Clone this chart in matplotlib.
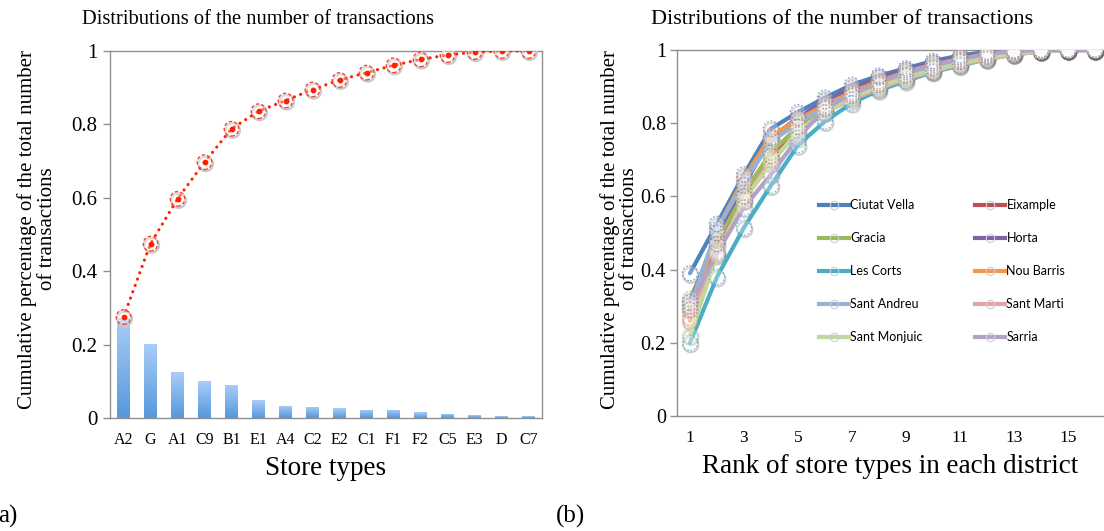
import numpy as np
import matplotlib
matplotlib.use("Agg")
import matplotlib.pyplot as plt
from matplotlib.lines import Line2D
from matplotlib import transforms
from matplotlib.colors import LinearSegmentedColormap

# ---------------- data ----------------
store_types = ["A2", "G", "A1", "C9", "B1", "E1", "A4", "C2", "E2", "C1", "F1", "F2", "C5", "E3", "D", "C7"]
share = [0.272, 0.202, 0.125, 0.100, 0.090, 0.048, 0.033, 0.030, 0.027, 0.022, 0.022, 0.016, 0.011, 0.008, 0.005, 0.005]
cumulative = [0.275, 0.475, 0.597, 0.697, 0.788, 0.836, 0.865, 0.895, 0.921, 0.941, 0.961, 0.977, 0.989, 0.997, 1.0, 1.0]

ranks = list(range(1, 17))
rank_ticks = [1, 3, 5, 7, 9, 11, 13, 15]
y_ticks = [0, 0.2, 0.4, 0.6, 0.8, 1]
y_ticklabels = ["0", "0.2", "0.4", "0.6", "0.8", "1"]

districts = ["Ciutat Vella", "Eixample", "Gracia", "Horta", "Les Corts",
             "Nou Barris", "Sant Andreu", "Sant Marti", "Sant Monjuic", "Sarria"]
ciutat_vella = [0.39, 0.525, 0.66, 0.785, 0.83, 0.87, 0.905, 0.93, 0.95, 0.97, 0.985, 0.995, 0.999, 1.0, 1.0, 1.0]
eixample = [0.29, 0.47, 0.60, 0.71, 0.79, 0.84, 0.875, 0.905, 0.93, 0.95, 0.968, 0.982, 0.993, 0.998, 1.0, 1.0]
gracia = [0.32, 0.48, 0.61, 0.72, 0.79, 0.84, 0.875, 0.905, 0.93, 0.952, 0.97, 0.984, 0.994, 0.999, 1.0, 1.0]
horta = [0.31, 0.50, 0.63, 0.76, 0.815, 0.86, 0.895, 0.925, 0.945, 0.965, 0.98, 0.99, 0.997, 1.0, 1.0, 1.0]
les_corts = [0.20, 0.38, 0.515, 0.63, 0.74, 0.805, 0.855, 0.89, 0.915, 0.94, 0.957, 0.975, 0.988, 0.996, 1.0, 1.0]
nou_barris = [0.26, 0.51, 0.65, 0.765, 0.81, 0.85, 0.885, 0.915, 0.94, 0.96, 0.975, 0.988, 0.996, 0.999, 1.0, 1.0]
sant_andreu = [0.30, 0.51, 0.64, 0.75, 0.80, 0.845, 0.88, 0.91, 0.935, 0.955, 0.972, 0.985, 0.995, 0.999, 1.0, 1.0]
sant_marti = [0.27, 0.45, 0.59, 0.70, 0.77, 0.83, 0.865, 0.895, 0.92, 0.942, 0.96, 0.975, 0.988, 0.996, 1.0, 1.0]
sant_monjuic = [0.22, 0.44, 0.59, 0.69, 0.78, 0.83, 0.87, 0.90, 0.925, 0.945, 0.963, 0.978, 0.99, 0.997, 1.0, 1.0]
sarria = [0.30, 0.445, 0.57, 0.66, 0.76, 0.84, 0.88, 0.91, 0.94, 0.96, 0.975, 0.99, 0.997, 1.0, 1.0, 1.0]
district_values = [ciutat_vella, eixample, gracia, horta, les_corts,
                   nou_barris, sant_andreu, sant_marti, sant_monjuic, sarria]
district_colors = ["#4F81BD", "#C0504D", "#9BBB59", "#8064A2", "#4BACC6",
                   "#F79646", "#95B3D7", "#E6A5A4", "#C3D69B", "#B3A2C7"]

# ---------------- figure ----------------
plt.rcParams["font.family"] = ["Liberation Serif", "DejaVu Serif"]
W, H = 1104, 531
fig = plt.figure(figsize=(W / 100, H / 100), dpi=100)

spine_col = "#8f8f8f"

def fx(px):
    return px / W

def fy(py):
    return 1 - py / H

ylabel_text = "Cumulative percentage of the total number\nof transactions"

# ---- left panel ----
axL = fig.add_axes([fx(110), fy(418), fx(542) - fx(110), fy(51) - fy(418)])
x = np.arange(len(store_types))
bar_w = 0.45
bars = axL.bar(x, share, width=bar_w, color="none", edgecolor="none", zorder=2)
grad = np.linspace(0, 1, 256).reshape(-1, 1)
cmap = LinearSegmentedColormap.from_list("barg", ["#5598dc", "#aacdf7"])
for b in bars:
    x0, y0 = b.get_x(), b.get_y()
    w, h = b.get_width(), b.get_height()
    im = axL.imshow(grad, extent=[x0, x0 + w, y0, y0 + h], origin="lower",
                    aspect="auto", cmap=cmap, zorder=2)
    im.set_clip_path(b)

axL.plot(x, cumulative, color="#ff2000", lw=2.3, linestyle=(0, (0.01, 2.1)),
         dash_capstyle="round", zorder=4)
sh = transforms.offset_copy(axL.transData, fig=fig, x=0.8, y=-1.2, units="points")
axL.scatter(x, cumulative, s=110, facecolors="none", edgecolors="#c8c8c8",
            linewidths=1.6, transform=sh, zorder=3)
axL.scatter(x, cumulative, s=110, facecolors="white", alpha=0.35, edgecolors="none", zorder=4.5)
axL.scatter(x, cumulative, s=110, facecolors="none", edgecolors="#ee4a3a",
            linewidths=1.0, linestyle=(0, (2.5, 1.5)), zorder=5)
axL.scatter(x, cumulative, s=10, color="#ff2000", zorder=6)

axL.set_xlim(-0.5, len(store_types) - 0.5)
axL.set_ylim(0, 1)
axL.set_xticks(x)
axL.set_xticklabels(store_types, fontsize=11.5)
axL.set_yticks(y_ticks)
axL.set_yticklabels(y_ticklabels, fontsize=15)
axL.tick_params(axis="x", length=0, pad=10)
axL.tick_params(axis="y", length=5, width=1, color=spine_col, pad=4)
for s in axL.spines.values():
    s.set_color(spine_col)
    s.set_linewidth(1)
axL.set_xlabel("Store types", fontsize=19.5, labelpad=6)
fig.text(fx(37), fy(229), ylabel_text, fontsize=15, rotation=90,
         ha="center", va="center", linespacing=1.05, multialignment="center")

# ---- right panel ----
axR = fig.add_axes([fx(677), fy(416), 1 - fx(677), fy(50) - fy(416)])
shR = transforms.offset_copy(axR.transData, fig=fig, x=0.6, y=-1.4, units="points")
handles = {}
for name, vals, col in zip(districts, district_values, district_colors):
    axR.plot(ranks, vals, color=col, lw=3.0, solid_joinstyle="round",
             solid_capstyle="round", zorder=3)
    axR.scatter(ranks, vals, s=120, facecolors="none", edgecolors="#6a6a6a",
                linewidths=1.4, alpha=0.35, transform=shR, zorder=2.5)
    axR.scatter(ranks, vals, s=120, facecolors="white", edgecolors="none",
                alpha=0.25, zorder=3.5)
    axR.scatter(ranks, vals, s=120, facecolors="none", edgecolors=col,
                linewidths=0.9, linestyle=(0, (1.5, 1.5)), alpha=0.7, zorder=3.6)
    handles[name] = Line2D([0], [0], color=col, lw=3.0, marker="o", ms=6,
                           mfc="none", mec="#c8d0e0", mew=0.8)

axR.set_xlim(0.52, 1 + (W - 690) / 27)
axR.set_ylim(0, 1)
axR.set_xticks(rank_ticks)
axR.set_xticklabels([str(r) for r in rank_ticks], fontsize=12.5)
axR.set_yticks(y_ticks)
axR.set_yticklabels(y_ticklabels, fontsize=14.5)
axR.tick_params(axis="x", length=0, pad=10)
axR.tick_params(axis="y", length=5, width=1, color=spine_col, pad=3)
for k, s in axR.spines.items():
    s.set_color(spine_col)
    s.set_linewidth(1)
axR.spines["right"].set_visible(False)
axR.set_xlabel("Rank of store types in each district", fontsize=19.5, labelpad=6)
fig.text(fx(620), fy(229), ylabel_text, fontsize=15, rotation=90,
         ha="center", va="center", linespacing=1.0, multialignment="center")

order = ["Ciutat Vella", "Gracia", "Les Corts", "Sant Andreu", "Sant Monjuic",
         "Eixample", "Horta", "Nou Barris", "Sant Marti", "Sarria"]
leg = axR.legend([handles[n] for n in order], order, ncol=2,
                 loc="upper left", bbox_to_anchor=(fx(819), fy(199)),
                 bbox_transform=fig.transFigure, frameon=False,
                 prop={"family": "Lato", "size": 9},
                 handlelength=2.4, handletextpad=0.1, columnspacing=4.2,
                 labelspacing=1.68, borderpad=0, borderaxespad=0)

# ---- titles and panel labels ----
fig.text(fx(82), fy(19), "Distributions of the number of transactions",
         fontsize=14.8, ha="left", va="center")
fig.text(fx(651), fy(19), "Distributions of the number of transactions",
         fontsize=16, ha="left", va="center")
fig.text(fx(-2), fy(516), "a)", fontsize=18, ha="left", va="center")
fig.text(fx(556), fy(516), "(b)", fontsize=18, ha="left", va="center")

fig.savefig("out.png", dpi=100)
